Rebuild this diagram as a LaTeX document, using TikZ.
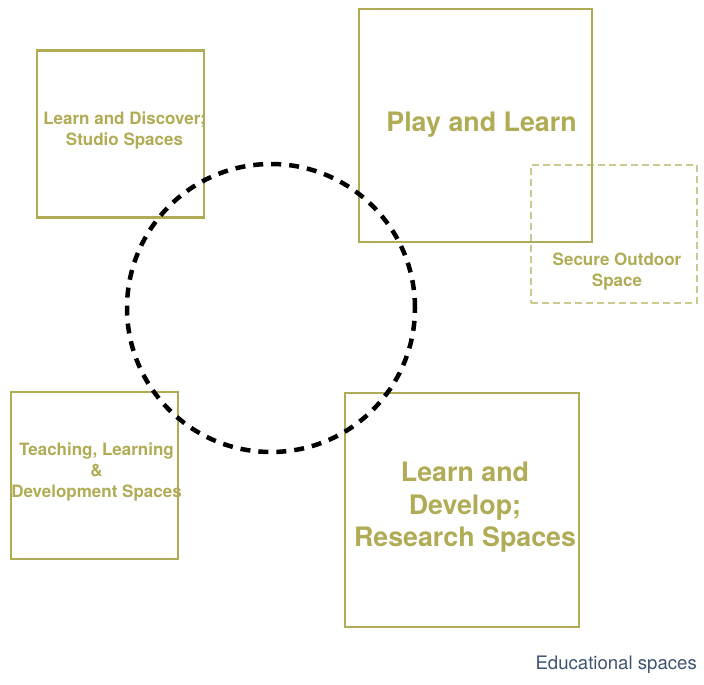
\documentclass[tikz,border=0pt]{standalone}
\usepackage{fontspec}
\setmainfont{TeX Gyre Heros}
\usepackage{tikz}
\usetikzlibrary{shapes,backgrounds,calc,positioning}

\definecolor{olivebox}{RGB}{176,172,85}
\definecolor{captionblue}{RGB}{62,84,115}

\begin{document}
\begin{tikzpicture}[
        x=1pt, y=-1pt,
        space/.style={draw=olivebox, line width=2.8pt, rectangle, inner sep=0pt},
        outdoor/.style={draw=olivebox!65, line width=1.8pt, rectangle, inner sep=0pt,
            dash pattern=on 7pt off 4pt},
        smalltext/.style={text=olivebox, align=center, font=\bfseries\fontsize{17}{20.7}\selectfont},
        bigtext/.style={text=olivebox, align=center, font=\bfseries\fontsize{26.8}{32.5}\selectfont},
        hub/.style={draw=black, circle, line width=4.5pt, inner sep=0pt,
            dash pattern=on 10pt off 8pt},
    ]
        \useasboundingbox (0,0) rectangle (704,685);

        % Outdoor area (behind)
        \node[outdoor, minimum width=166pt, minimum height=138pt] (outdoor) at (614,234) {};

        % Spaces
        \node[space, minimum size=167pt] (discover) at (120.5,134) {};
        \node[space, minimum size=233pt] (play) at (475.5,125.5) {};
        \node[space, minimum size=167pt] (teaching) at (94.5,475.5) {};
        \node[space, minimum size=234pt] (develop) at (462,510) {};

        % Labels
        \node[smalltext] (discovertxt) at (124.5,130.5) {Learn and Discover;\\Studio Spaces};
        \node[bigtext] (playtxt) at (481.5,124.5) {Play and Learn};
        \node[smalltext] (outdoortxt) at (617,271.5) {Secure Outdoor\\Space};
        \node[smalltext] (teachingtxt) at (96.5,472) {Teaching, Learning\\\&\\Development Spaces};
        \node[bigtext] (developtxt) at (465,507.5) {Learn and\\Develop;\\Research Spaces};

        % Centre circle
        \node[hub, minimum size=288pt] (centre) at (271,308) {};

        % Caption
        \node[text=captionblue, anchor=east, inner sep=0pt, font=\fontsize{18.6}{22}\selectfont]
            (caption) at (697,665) {Educational spaces};
\end{tikzpicture}
\end{document}
